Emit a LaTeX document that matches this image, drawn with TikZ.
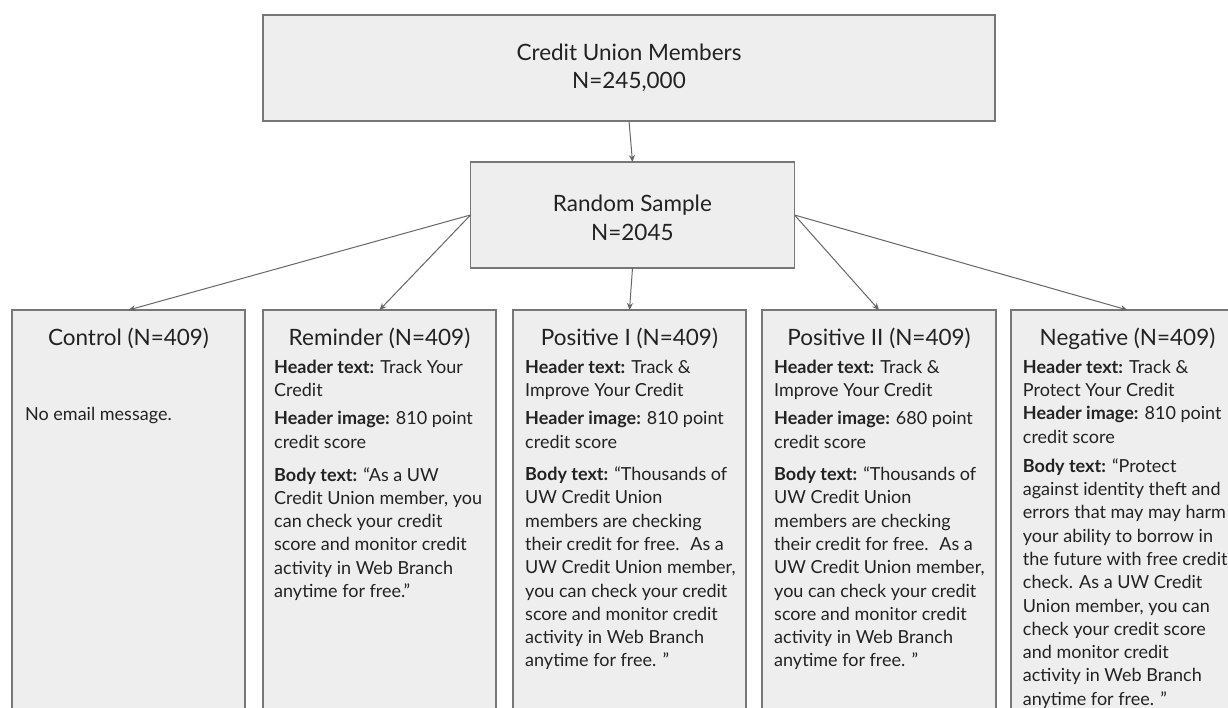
\documentclass[tikz,border=0pt]{standalone}
\usepackage{fontspec}
\setmainfont{Lato}
\usetikzlibrary{arrows.meta}
\definecolor{boxfill}{HTML}{EEEEEE}
\definecolor{bordergray}{HTML}{777777}
\definecolor{arrowgray}{HTML}{666666}
\definecolor{txtcol}{HTML}{222222}
\newcommand{\ptop}[2]{\parbox[t]{#1}{#2}}
\begin{document}
\begin{tikzpicture}[x=1pt,y=-1pt,
  box/.style={draw=bordergray, fill=boxfill, line width=1.2pt, inner sep=0pt, outer sep=0pt, anchor=north west},
  ttl/.style={text=txtcol, inner sep=0pt, anchor=base, font=\fontsize{22.5}{28.3}\selectfont},
  bodytxt/.style={text=txtcol, inner sep=0pt, anchor=base west, font=\fontsize{18}{23.3}\selectfont},
  conn/.style={draw=arrowgray, line width=1pt, -{Stealth[length=7pt,width=6pt]}}]
\useasboundingbox (0,0) rectangle (1228,707);
\fill[white] (0,0) rectangle (1228,707);
\clip (0,0) rectangle (1228,707);

% top boxes
\node[box, minimum width=732pt, minimum height=106pt] (cum) at (263,15) {};
\node[ttl] (cumt) at (629,60) {\ptop{400pt}{\centering Credit Union Members\\N=245,000}};
\node[box, minimum width=324pt, minimum height=106pt] (rs) at (470.5,162) {};
\node[ttl] (rst) at (632.4,211.7) {\ptop{300pt}{\centering Random Sample\\N=2045}};

% bottom boxes
\node[box, minimum width=233pt, minimum height=420pt] (ctrl) at (12,310) {};
\node[box, minimum width=233pt, minimum height=420pt] (rem) at (263,310) {};
\node[box, minimum width=233pt, minimum height=420pt] (pos1) at (513,310) {};
\node[box, minimum width=234pt, minimum height=420pt] (pos2) at (762,310) {};
\node[box, minimum width=233pt, minimum height=420pt] (neg) at (1011,310) {};

% titles
\node[ttl] (ctrlt) at (ctrl.north |- 0,345.7) {Control (N=409)};
\node[ttl] (remt) at (rem.north |- 0,345.7) {Reminder (N=409)};
\node[ttl] (pos1t) at (pos1.north |- 0,345.7) {Positive I (N=409)};
\node[ttl] (pos2t) at (pos2.north |- 0,345.7) {Positive II (N=409)};
\node[ttl] (negt) at (neg.north |- 0,345.7) {Negative (N=409)};

% body texts
\node[bodytxt] (ctrlb) at (25,420.7) {No email message.};
\node[bodytxt] (remb) at (274,373.3) {\ptop{240pt}{\raggedright
\textbf{Header text:} Track Your\\Credit\\[5pt]
\textbf{Header image:} 810 point\\credit score\\[9.5pt]
\textbf{Body text:} “As a UW\\Credit Union member, you\\can check your credit\\score and monitor credit\\activity in Web Branch\\anytime for free.”}};
\node[bodytxt] (pos1b) at (525,373.3) {\ptop{240pt}{\raggedright
\textbf{Header text:} Track \&\\Improve Your Credit\\[5pt]
\textbf{Header image:} 810 point\\credit score\\[9pt]
\textbf{Body text:} “Thousands of\\UW Credit Union\\members are checking\\their credit for free.~ As a\\UW Credit Union member,\\you can check your credit\\score and monitor credit\\activity in Web Branch\\anytime for free. ”}};
\node[bodytxt] (pos2b) at (774,373.3) {\ptop{240pt}{\raggedright
\textbf{Header text:} Track \&\\Improve Your Credit\\[5pt]
\textbf{Header image:} 680 point\\credit score\\[9pt]
\textbf{Body text:} “Thousands of\\UW Credit Union\\members are checking\\their credit for free.~ As a\\UW Credit Union member,\\you can check your credit\\score and monitor credit\\activity in Web Branch\\anytime for free. ”}};
\node[bodytxt] (negb) at (1022.7,373.3) {\ptop{240pt}{\raggedright
\textbf{Header text:} Track \&\\Protect Your Credit\\
\textbf{Header image:} 810 point\\credit score\\[5.7pt]
\textbf{Body text:} “Protect\\against identity theft and\\errors that may may harm\\your ability to borrow in\\the future with free credit\\check. As a UW Credit\\Union member, you can\\check your credit score\\and monitor credit\\activity in Web Branch\\anytime for free. ”}};

% connectors
\draw[conn] (cum.south) -- (rs.north);
\draw[conn] (rs.west) -- (ctrl.north);
\draw[conn] (rs.west) -- (rem.north);
\draw[conn] (rs.south) -- (pos1.north);
\draw[conn] (rs.east) -- (pos2.north);
\draw[conn] (rs.east) -- (neg.north);
\end{tikzpicture}
\end{document}
